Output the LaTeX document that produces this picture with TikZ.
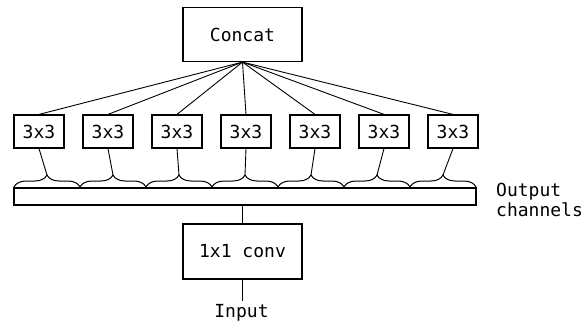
\documentclass[tikz,border=0pt]{standalone}
\usepackage{fontspec}
\setmonofont{DejaVu Sans Mono}
\usetikzlibrary{decorations.pathreplacing}
\tikzset{
  lbl/.style={font=\ttfamily\fontsize{18}{19.5}\selectfont, inner sep=0pt},
  box/.style={lbl, draw, line width=1.2pt},
  wire/.style={line width=0.9pt}
}
\begin{document}
\begin{tikzpicture}[x=1pt, y=-1pt]
  \useasboundingbox (0,0) rectangle (587,324);

  \node[box, minimum width=119pt, minimum height=54pt] (concat) at (242.5,34.5) {Concat};

  \foreach \i in {1,...,7} {
    \node[box, minimum width=50pt, minimum height=33pt] (b\i) at ({39+69*(\i-1)},131.5) {3x3};
    \coordinate (t\i) at ({47+66*(\i-1)},175);
    \draw[line width=1pt, decorate, decoration={brace, amplitude=12pt}]
      ({14+66*(\i-1)},187) -- ({14+66*\i},187);
    \draw[wire] (concat.south) -- (b\i.north);
    \draw[wire] (b\i.south) -- (t\i);
  }

  \node[draw, line width=1.2pt, minimum width=462pt, minimum height=17pt, inner sep=0pt] (bar) at (245,196.5) {};
  \node[lbl, anchor=west, align=left] (outch) at (496,200) {Output\\channels};

  \node[box, minimum width=119pt, minimum height=55pt] (conv) at (242.5,251.5) {1x1 conv};
  \node[lbl] (input) at (241.5,313) {Input};

  \draw[wire] (conv.north) -- (conv.north |- bar.south);
  \draw[wire] (conv.south) -- ++(0,21);
\end{tikzpicture}
\end{document}
